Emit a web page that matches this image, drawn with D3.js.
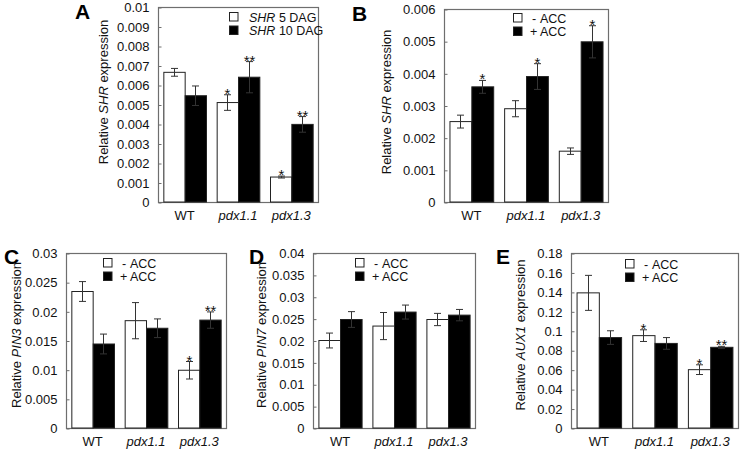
<!DOCTYPE html>
<html><head><meta charset="utf-8">
<script src="https://cdn.jsdelivr.net/npm/d3@7"></script>
<style>body{margin:0;background:#fff}svg{font-family:"Liberation Sans",Arial,sans-serif}</style>
</head><body><svg id="c" width="740" height="456"></svg>
<script>
const categories = ["WT", "pdx1.1", "pdx1.3"];
const italicCat = [false, true, true];

// Panel A
const aWhite = [0.00665, 0.0051, 0.00128], aWhiteErr = [0.0002, 0.0004, 0.00005];
const aBlack = [0.00545, 0.0064, 0.00398], aBlackErr = [0.0005, 0.0008, 0.0004];
const aWhiteStar = ["", "*", "*"], aBlackStar = ["", "**", "**"];
const aTicks = [0,0.001,0.002,0.003,0.004,0.005,0.006,0.007,0.008,0.009,0.01];
// Panel B
const bWhite = [0.0025, 0.0029, 0.00158], bWhiteErr = [0.0002, 0.00025, 0.0001];
const bBlack = [0.00358, 0.0039, 0.00498], bBlackErr = [0.0002, 0.0004, 0.0005];
const bWhiteStar = ["", "", ""], bBlackStar = ["*", "*", "*"];
const bTicks = [0,0.001,0.002,0.003,0.004,0.005,0.006];
// Panel C
const cWhite = [0.0234, 0.0184, 0.0099], cWhiteErr = [0.0017, 0.0031, 0.0015];
const cBlack = [0.0144, 0.0171, 0.0185], cBlackErr = [0.0017, 0.0016, 0.0014];
const cWhiteStar = ["", "", "*"], cBlackStar = ["", "", "**"];
const cTicks = [0,0.005,0.01,0.015,0.02,0.025,0.03];
// Panel D
const dWhite = [0.0200, 0.0233, 0.0248], dWhiteErr = [0.0017, 0.0031, 0.0014];
const dBlack = [0.0248, 0.0265, 0.0258], dBlackErr = [0.0018, 0.0016, 0.0013];
const dWhiteStar = ["", "", ""], dBlackStar = ["", "", ""];
const dTicks = [0,0.005,0.01,0.015,0.02,0.025,0.03,0.035,0.04];
// Panel E
const eWhite = [0.139, 0.095, 0.060], eWhiteErr = [0.018, 0.006, 0.005];
const eBlack = [0.093, 0.087, 0.083], eBlackErr = [0.007, 0.006, 0.001];
const eWhiteStar = ["", "*", "*"], eBlackStar = ["", "", "**"];
const eTicks = [0,0.02,0.04,0.06,0.08,0.1,0.12,0.14,0.16,0.18];

const legendAcc = [["-", "ACC"], ["+", "ACC"]];
const legendDag = [["SHR", " 5 DAG"], ["SHR", " 10 DAG"]];

const svg = d3.select("#c");

function panel(o) {
  const x = d3.scaleBand().domain(categories).range([o.l, o.r]).paddingInner(0.2).paddingOuter(0.1);
  const sub = d3.scaleBand().domain(["w","b"]).range([0, x.bandwidth()]);
  const y = d3.scaleLinear().domain([0, o.ticks[o.ticks.length-1]]).range([o.b, o.t]);
  const g = svg.append("g");
  g.append("rect").attr("x", o.l+0.5).attr("y", o.t+0.5).attr("width", o.r-o.l).attr("height", o.b-o.t)
    .attr("fill","none").attr("stroke","#6e6e6e").attr("stroke-width",1.2);
  const ax = d3.axisLeft(y).tickValues(o.ticks).tickSize(-3).tickPadding(9)
    .tickFormat(v => String(+v.toFixed(4)));
  const ag = g.append("g").attr("transform", `translate(${o.l+0.5},0.5)`).call(ax);
  ag.select(".domain").remove();
  ag.selectAll(".tick line").attr("stroke","#6e6e6e");
  ag.selectAll("text").attr("font-size", 13).attr("fill","#111").attr("font-family","Liberation Sans, Arial");
  const series = [
    {k:"w", v:o.white, e:o.whiteErr, s:o.whiteStar, fill:"#fff"},
    {k:"b", v:o.black, e:o.blackErr, s:o.blackStar, fill:"#000"}];
  series.forEach(se => {
    categories.forEach((c,i) => {
      const bx = x(c) + sub(se.k), bw = sub.bandwidth();
      g.append("rect").attr("x", bx+0.5).attr("y", y(se.v[i])).attr("width", bw)
        .attr("height", y(0)-y(se.v[i])).attr("fill", se.fill).attr("stroke","#222").attr("stroke-width",1);
      const cx = Math.round(bx + bw/2)+0.5;
      const yt = y(se.v[i]+se.e[i]), yb = y(se.v[i]-se.e[i]);
      const col = "#333";
      g.append("line").attr("x1",cx).attr("x2",cx).attr("y1",yt).attr("y2",yb).attr("stroke",col);
      g.append("line").attr("x1",cx-3.5).attr("x2",cx+3.5).attr("y1",yt).attr("y2",yt).attr("stroke",col);
      g.append("line").attr("x1",cx-3.5).attr("x2",cx+3.5).attr("y1",yb).attr("y2",yb).attr("stroke",col);
      if (se.s[i]) g.append("text").attr("x",cx).attr("y",yt+4).attr("text-anchor","middle")
        .attr("font-size",15).attr("fill","#111").text(se.s[i]);
    });
  });
  categories.forEach((c,i) => {
    g.append("text").attr("x", x(c)+x.bandwidth()/2).attr("y", o.b+18).attr("text-anchor","middle")
      .attr("font-size",13).attr("fill","#111").attr("font-style", italicCat[i] ? "italic":"normal").text(c);
  });
  const yl = g.append("text").attr("transform", `translate(${o.ylx},${o.yly}) rotate(-90)`)
    .attr("text-anchor","middle").attr("font-size",13).attr("fill","#111");
  yl.append("tspan").text("Relative ");
  yl.append("tspan").attr("font-style","italic").text(o.gene);
  yl.append("tspan").text(" expression");
  g.append("text").attr("x",o.lx).attr("y",o.ly).attr("font-size",21).attr("font-weight","bold")
    .attr("fill","#000").text(o.letter);
  o.legend.forEach((lab,i) => {
    const ly = o.legY + i*13.5;
    g.append("rect").attr("x",o.legX+0.5).attr("y",ly-4.5).attr("width",8.5).attr("height",8.5)
      .attr("fill", i===0 ? "#fff":"#000").attr("stroke","#222");
    if (o.dag) {
      const t = g.append("text").attr("x",o.legX+20).attr("y",ly+4.5).attr("font-size",12.5).attr("fill","#111");
      t.append("tspan").attr("font-style","italic").text(lab[0]); t.append("tspan").text(lab[1]);
    } else {
      g.append("text").attr("x",o.legX+(i===0 ? 19 : 17)).attr("y",ly+4.5).attr("font-size",12.5).attr("fill","#111").text(lab[0]);
      g.append("text").attr("x",o.legX+27).attr("y",ly+4.5).attr("font-size",12.5).attr("fill","#111").text(lab[1]);
    }
  });
}

panel({l:158,r:318,t:7,b:202,ticks:aTicks,white:aWhite,whiteErr:aWhiteErr,black:aBlack,blackErr:aBlackErr,
  whiteStar:aWhiteStar,blackStar:aBlackStar,gene:"SHR",ylx:108,yly:92,letter:"A",lx:75,ly:19,
  legend:legendDag,dag:true,legX:229,legY:17});
panel({l:444,r:608,t:9,b:202,ticks:bTicks,white:bWhite,whiteErr:bWhiteErr,black:bBlack,blackErr:bBlackErr,
  whiteStar:bWhiteStar,blackStar:bBlackStar,gene:"SHR",ylx:391,yly:102,letter:"B",lx:352,ly:21,
  legend:legendAcc,legX:513,legY:18});
panel({l:66,r:226,t:253,b:428,ticks:cTicks,white:cWhite,whiteErr:cWhiteErr,black:cBlack,blackErr:cBlackErr,
  whiteStar:cWhiteStar,blackStar:cBlackStar,gene:"PIN3",ylx:21,yly:335,letter:"C",lx:4,ly:264,
  legend:legendAcc,legX:103,legY:263});
panel({l:313,r:475,t:253,b:428,ticks:dTicks,white:dWhite,whiteErr:dWhiteErr,black:dBlack,blackErr:dBlackErr,
  whiteStar:dWhiteStar,blackStar:dBlackStar,gene:"PIN7",ylx:266,yly:335,letter:"D",lx:249,ly:264,
  legend:legendAcc,legX:355,legY:263});
panel({l:571,r:738,t:253,b:428,ticks:eTicks,white:eWhite,whiteErr:eWhiteErr,black:eBlack,blackErr:eBlackErr,
  whiteStar:eWhiteStar,blackStar:eBlackStar,gene:"AUX1",ylx:525,yly:335,letter:"E",lx:496,ly:264,
  legend:legendAcc,legX:625,legY:264});
</script></body></html>
